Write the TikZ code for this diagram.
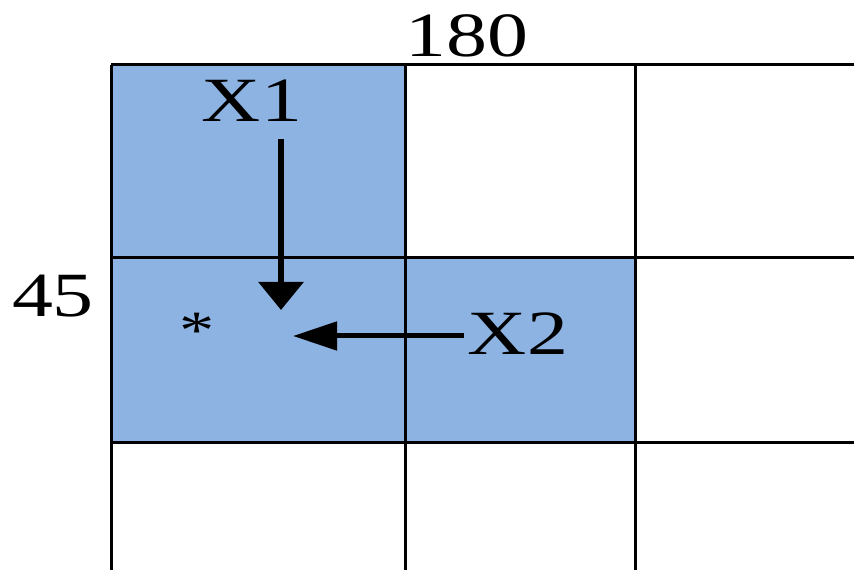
\documentclass[tikz,border=0pt]{standalone}
\usepackage{fontspec}
\setmainfont{Liberation Serif}
\usetikzlibrary{positioning,arrows.meta}
\definecolor{cellblue}{RGB}{141,179,226}

\begin{document}
\begin{tikzpicture}[x=1pt,y=1pt]
    \begin{scope}[
    		cell/.style={fill=cellblue},
    		gridline/.style={black, line width=3pt},
    		lbl/.style={inner sep=3pt, anchor=base, xscale=1.3, font=\fontsize{63}{70}\selectfont},
    		arrow/.style={black, line width=5pt}]

    \useasboundingbox (0,0) rectangle (854,570);

    % shaded cells
    \fill[cell] (111,127) rectangle (405,505);
    \fill[cell] (405,127) rectangle (635,312);

    % grid
    \draw[gridline] (111,505) -- (854,505);
    \draw[gridline] (111,312) -- (854,312);
    \draw[gridline] (111,127) -- (854,127);
    \draw[gridline] (111,505) -- (111,0);
    \draw[gridline] (405,505) -- (405,0);
    \draw[gridline] (635,505) -- (635,0);

    \node[lbl] (top) at (467,513) {180};
    \node[lbl] (side) at (53,253) {45};
    \node[lbl] (xone) at (252,448) {X1};
    \node[lbl] (xtwo) at (518,215) {X2};
    \node[lbl, anchor=center, font=\fontsize{54}{60}\selectfont] (star) at (197,239) {*};

    \coordinate (tipone) at (281,260);
    \coordinate (tiptwo) at (293,234);

    \draw[arrow, line width=6pt, -{Triangle[length=28pt,width=44pt]}, shorten <=14pt]
    (xone.south -| tipone) -- (tipone);
    \draw[arrow, -{Triangle[length=44pt,width=28pt]}]
    (xtwo.west |- tiptwo) -- (tiptwo);

    \end{scope}
\end{tikzpicture}
\end{document}
